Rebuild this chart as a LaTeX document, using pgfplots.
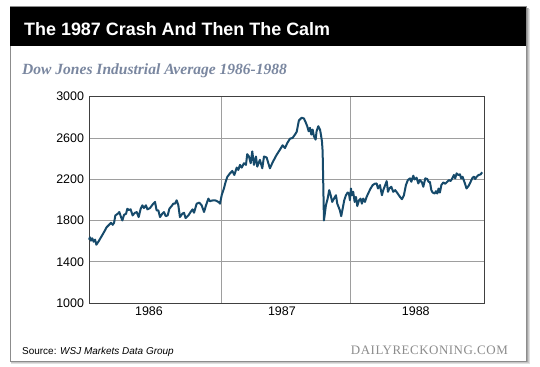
\documentclass[border=0pt]{standalone}
\usepackage{pgfplots}
\pgfplotsset{compat=1.18}
\usepackage{fontspec}
\setmainfont{Liberation Sans}
\newfontfamily\subfont{Liberation Serif}
\newfontfamily\drfont[LetterSpace=4]{Liberation Serif}
\definecolor{dowblue}{RGB}{22,74,107}
\definecolor{subgray}{RGB}{122,135,160}
\definecolor{drgray}{RGB}{140,140,140}

\pgfplotstableread{
t v
0.000 1614
0.008 1637
0.015 1604
0.025 1627
0.035 1594
0.046 1614
0.056 1565
0.071 1594
0.091 1637
0.116 1692
0.134 1735
0.152 1758
0.167 1777
0.180 1758
0.190 1777
0.200 1849
0.218 1865
0.230 1882
0.243 1833
0.253 1800
0.266 1855
0.281 1865
0.291 1914
0.301 1901
0.316 1908
0.331 1849
0.346 1872
0.362 1882
0.377 1833
0.392 1914
0.405 1947
0.417 1921
0.432 1947
0.443 1908
0.463 1921
0.488 1963
0.501 1980
0.513 1898
0.526 1898
0.539 1833
0.556 1865
0.569 1882
0.582 1842
0.597 1849
0.610 1914
0.627 1940
0.640 1963
0.653 1963
0.665 1996
0.678 1947
0.690 1833
0.708 1865
0.721 1875
0.733 1823
0.754 1849
0.771 1882
0.786 1908
0.797 1875
0.817 1963
0.837 1973
0.855 1947
0.873 1882
0.888 1947
0.906 2012
0.918 1986
0.931 1993
0.956 1996
0.974 1986
0.989 1973
0.994 1963
1.007 2045
1.024 2110
1.037 2175
1.050 2224
1.070 2257
1.088 2280
1.103 2241
1.121 2313
1.133 2290
1.146 2339
1.159 2313
1.176 2355
1.191 2339
1.201 2443
1.214 2420
1.227 2355
1.239 2470
1.252 2339
1.267 2420
1.277 2322
1.297 2388
1.315 2306
1.328 2420
1.348 2411
1.361 2355
1.373 2306
1.394 2365
1.424 2437
1.449 2486
1.469 2529
1.487 2502
1.505 2551
1.525 2593
1.545 2600
1.563 2633
1.576 2659
1.593 2770
1.614 2796
1.631 2789
1.646 2747
1.656 2714
1.667 2665
1.677 2698
1.687 2633
1.697 2682
1.707 2616
1.720 2584
1.727 2665
1.740 2714
1.753 2682
1.760 2633
1.768 2567
1.773 2469
1.778 2143
1.783 1800
1.798 1947
1.811 2012
1.823 2094
1.834 2045
1.846 1980
1.859 2012
1.874 2045
1.884 1963
1.894 1931
1.904 1898
1.914 1842
1.925 1914
1.937 1996
1.950 2045
1.963 2071
1.973 2061
1.980 1996
1.988 2110
1.995 2045
2.005 2078
2.016 1980
2.026 2029
2.036 1940
2.049 1996
2.061 2012
2.071 1963
2.081 2012
2.094 1980
2.107 2029
2.122 2071
2.137 2110
2.153 2143
2.168 2156
2.183 2159
2.193 2110
2.208 2143
2.223 2045
2.233 2094
2.248 2143
2.259 2182
2.269 2078
2.279 2110
2.294 2127
2.309 2078
2.324 2094
2.339 2068
2.360 2029
2.375 2006
2.390 2045
2.405 2143
2.420 2192
2.436 2208
2.446 2175
2.461 2234
2.471 2198
2.486 2215
2.499 2159
2.511 2192
2.527 2169
2.537 2127
2.552 2208
2.567 2202
2.577 2175
2.587 2175
2.598 2094
2.608 2071
2.623 2061
2.633 2084
2.643 2061
2.653 2110
2.663 2071
2.674 2143
2.689 2169
2.704 2156
2.719 2175
2.731 2192
2.744 2182
2.757 2208
2.769 2241
2.779 2208
2.790 2257
2.802 2241
2.815 2247
2.825 2208
2.835 2224
2.853 2159
2.865 2110
2.881 2136
2.896 2175
2.911 2215
2.921 2224
2.931 2202
2.942 2224
2.957 2241
2.972 2247
2.984 2267
}\dowdata

\begin{document}
\begin{tikzpicture}[x=1bp,y=1bp]
\path[use as bounding box, fill=white] (0,0) rectangle (540,366);
% shadow
\fill[black!12] (11,2) rectangle (530,357);
\fill[black!22] (11,3) rectangle (529,357.5);
\fill[black!35] (11,4) rectangle (528,358);
% frame
\draw[fill=white, draw=black!45, line width=0.8bp] (10,5) rectangle (526,359.3);
\fill[black] (10,320.3) rectangle (526,359.3);
\node[anchor=base west, text=white, inner sep=0, font=\fontsize{18}{20}\selectfont\bfseries] at (24,330.5) {The 1987 Crash And Then The Calm};
\node[anchor=base west, text=subgray, inner sep=0, font=\fontsize{15.6}{17}\selectfont\subfont\bfseries\itshape] at (22,292) {Dow Jones Industrial Average 1986-1988};
\node[anchor=base west, inner sep=0, font=\fontsize{10}{12}\selectfont] at (22,12) {Source: \textit{WSJ Markets Data Group}};
\node[anchor=base east, text=drgray, inner sep=0, font=\fontsize{13}{15}\selectfont\drfont] at (508,12) {DAILYRECKONING.COM};

\begin{axis}[
  at={(89bp,63bp)}, anchor=south west,
  scale only axis, width=395.3bp, height=206.3bp,
  xmin=0, xmax=3, ymin=1000, ymax=3000,
  axis line style={black!75, line width=0.8bp},
  xtick={1.005,1.981}, xticklabels={},
  extra x ticks={0.455,1.464,2.48},
  extra x tick labels={1986,1987,1988},
  extra x tick style={grid=none},
  ytick={1000,1400,...,3000},
  major tick length=0pt,
  grid=major,
  major grid style={black!38, line width=0.6bp},
  tick label style={font=\fontsize{12.5}{14}\selectfont, /pgf/number format/assume math mode=true},
  yticklabel style={xshift=-1.5bp},
  xticklabel style={yshift=-0.5bp},
  /pgf/number format/1000 sep={},
  clip=false,
]
\addplot[dowblue, line width=2bp, line join=round] table[x=t, y=v] {\dowdata};
\end{axis}
\end{tikzpicture}
\end{document}
